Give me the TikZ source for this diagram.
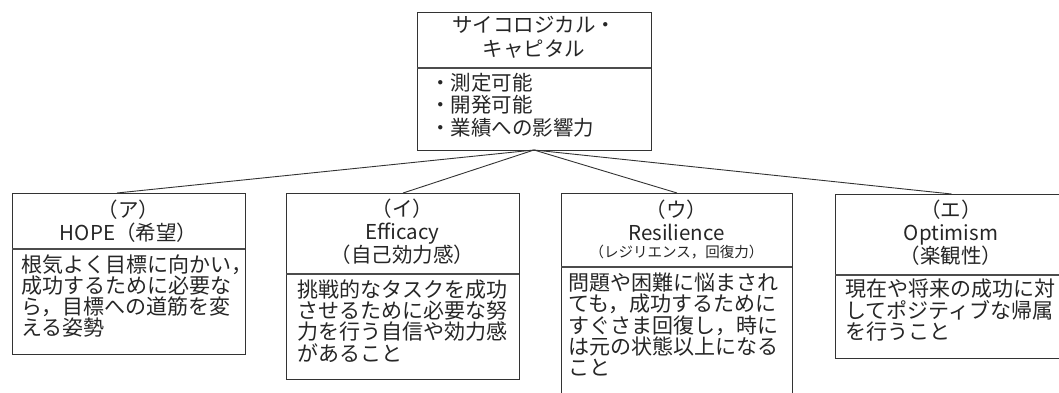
\documentclass[tikz,border=0pt]{standalone}
\usepackage{fontspec}
\setmainfont{Noto Sans CJK JP}
\begin{document}
\begin{tikzpicture}[x=1pt,y=-1pt,
  box/.style={draw=black!80, line width=1.1pt, rectangle, inner sep=0pt, anchor=north west},
  divider/.style={draw=black!70, line width=1.1pt},
  link/.style={draw=black!80, line width=0.9pt},
  hd/.style={font=\fontsize{20.5}{22.5}\selectfont, text=black!85, inner sep=0pt, align=center},
  sm/.style={font=\fontsize{14.5}{16}\selectfont, text=black!85, inner sep=0pt},
  bd/.style={font=\fontsize{21}{21.3}\selectfont, text=black!85, inner sep=0pt, align=left, anchor=west}]
\useasboundingbox (0,0) rectangle (1059,393);
\clip (0,0) rectangle (1059,393);
\fill[white] (0,0) rectangle (1059,393);

% top box
\node[box, minimum width=234pt, minimum height=138pt] (top) at (417,12) {};
\draw[divider] (417,68) -- (651,68);
\node[hd, text width=230pt, font=\fontsize{20.5}{24}\selectfont] (toph) at (534,37) {サイコロジカル・\\キャピタル};
\node[bd, font=\fontsize{20.5}{22.5}\selectfont] (topb) at (430,105) {・測定可能\\・開発可能\\・業績への影響力};

% box A
\node[box, minimum width=233pt, minimum height=161pt] (a) at (12,193) {};
\draw[divider] (12,249) -- (245,249);
\node[hd] (ah) at (128.5,221) {（ア）\\HOPE（希望）};
\node[bd] (ab) at (21,296) {根気よく目標に向かい，\\成功するために必要な\\ら，目標への道筋を変\\える姿勢};

% box B
\node[box, minimum width=233pt, minimum height=186pt] (b) at (286,193) {};
\draw[divider] (286,274) -- (519,274);
\node[hd, font=\fontsize{20.5}{23}\selectfont] (bh) at (402.5,232) {（イ）\\Efficacy\\（自己効力感）};
\node[bd] (bb) at (297,321) {挑戦的なタスクを成功\\させるために必要な努\\力を行う自信や効力感\\があること};

% box C
\node[box, minimum width=231pt, minimum height=215pt] (c) at (561,193) {};
\draw[divider] (561,267) -- (792,267);
\node[hd] (ch) at (676.5,220.5) {（ウ）\\Resilience};
\node[sm] (cs) at (676.5,252) {（レジリエンス，回復力）};
\node[bd] (cb) at (568,324.6) {問題や困難に悩まされ\\ても，成功するために\\すぐさま回復し，時に\\は元の状態以上になる\\こと};

% box D
\node[box, minimum width=232pt, minimum height=164pt] (d) at (835,194) {};
\draw[divider] (835,275) -- (1067,275);
\node[hd, font=\fontsize{20.5}{23}\selectfont] (dh) at (951,233) {（エ）\\Optimism\\（楽観性）};
\node[bd] (db) at (845,310.3) {現在や将来の成功に対\\してポジティブな帰属\\を行うこと};

% connectors
\coordinate (hub) at (534,150);
\coordinate (aend) at (117,193);
\draw[link] (hub) -- (aend);
\draw[link] (hub) -- (b.north);
\draw[link] (hub) -- (c.north);
\draw[link] (hub) -- (d.north);
\end{tikzpicture}
\end{document}
